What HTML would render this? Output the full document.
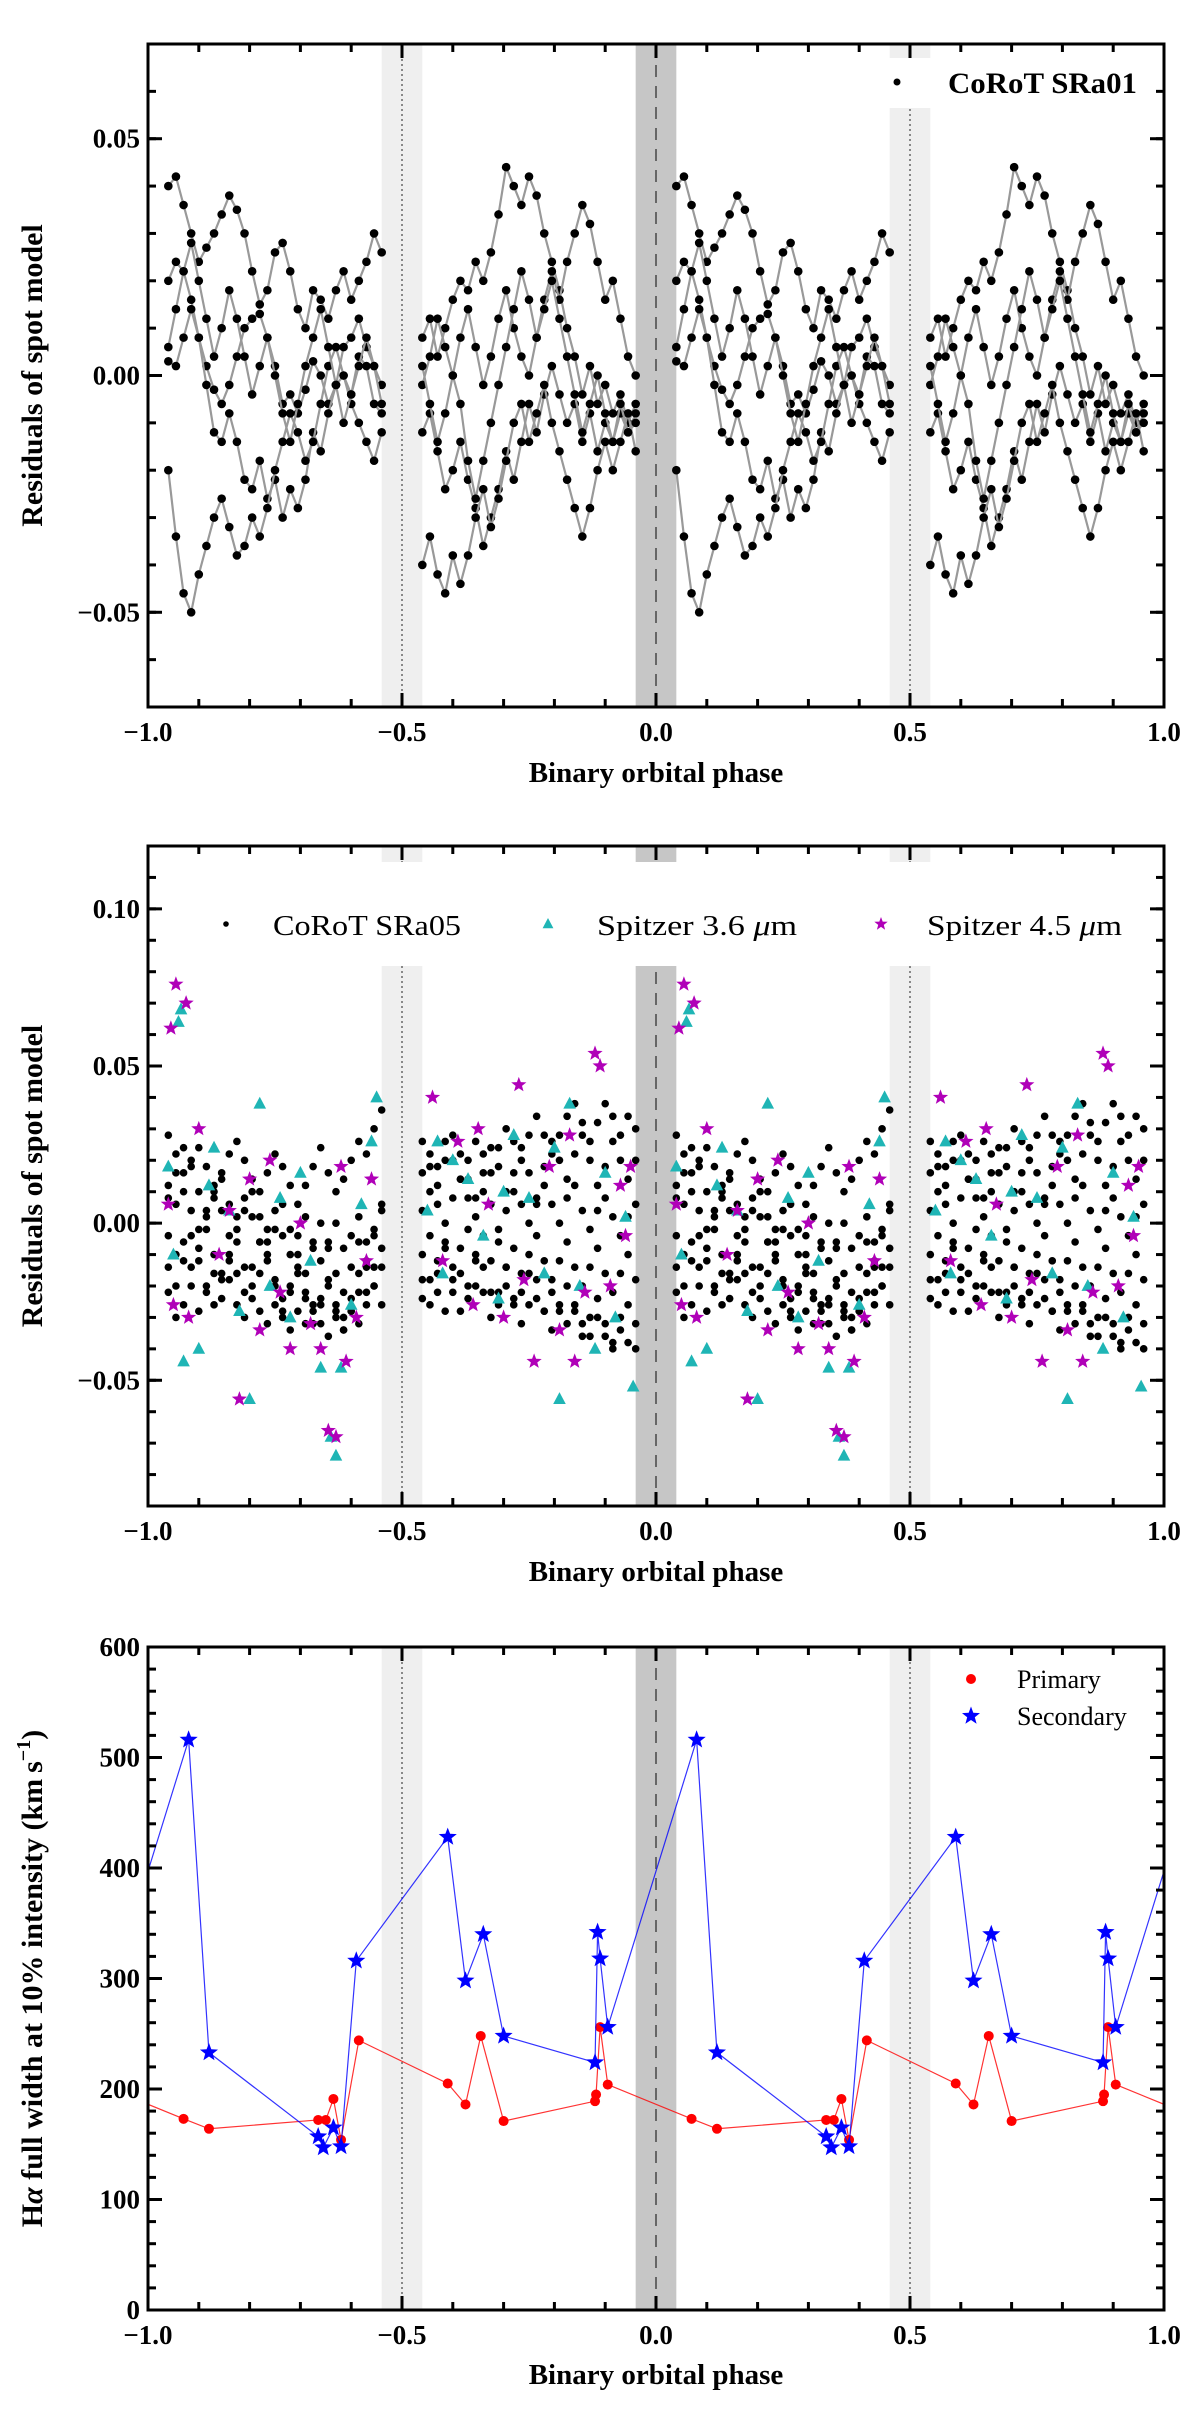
<!DOCTYPE html>
<html><head><meta charset="utf-8">
<style>
html,body{margin:0;padding:0;background:#fff;}
svg{display:block;font-family:"Liberation Serif",serif;}
</style></head>
<body>
<svg id="fig" width="1200" height="2410" viewBox="0 0 1200 2410" xmlns="http://www.w3.org/2000/svg"></svg>
<script>
// ---------- Panel 1 data (CoRoT SRa01), residual units of 0.01, phases in [-1,0) ----------
const p1SegStart = [-0.96, -0.46];
const p1SegEnd = [-0.54, -0.04];
const p1TraceA_L = [4.0,4.2,3.6,3.0,2.4,2.7,3.0,3.4,3.8,3.5,3.0,2.2,1.5,1.8,2.6,2.8,2.2,1.4,1.0,1.8,1.6,1.2,1.8,2.2,1.6,2.0,2.4,3.0,2.6];
const p1TraceB_L = [2.0,2.4,2.2,1.6,0.8,0.2,-0.3,-0.6,-0.2,0.4,1.0,1.2,1.3,0.8,0.2,-0.6,-0.4,-0.8,-0.3,0.3,0.0,-0.6,-0.2,0.6,0.8,1.2,0.6,0.2,-0.2];
const p1TraceC_L = [0.3,0.2,0.8,1.4,0.8,-0.2,-1.2,-1.4,-0.8,-1.4,-2.2,-2.4,-1.8,-2.6,-2.2,-3.0,-2.4,-2.8,-2.2,-1.2,-1.6,-0.8,-0.2,0.0,-0.6,-1.0,-1.4,-1.8,-1.2];
const p1TraceD_L = [-2.0,-3.4,-4.6,-5.0,-4.2,-3.6,-3.0,-2.6,-3.2,-3.8,-3.6,-3.0,-3.4,-2.8,-2.0,-1.4,-0.8,-1.2,-1.8,-1.4,-0.6,0.2,0.6,0.0,-0.4,0.4,0.2,-0.6,-0.8];
const p1TraceE_L = [0.6,1.4,2.2,2.8,2.0,1.2,0.4,1.0,1.8,1.2,0.4,-0.4,0.2,0.8,0.0,-0.8,-1.4,-0.6,0.2,0.8,1.4,0.6,-0.2,-1.0,-0.4,0.2,0.8,0.2,-0.6];
const p1TraceA_R = [0.8,1.2,0.4,1.0,1.6,2.0,1.8,2.4,2.0,2.6,3.4,4.4,4.0,3.6,4.2,3.8,3.0,2.4,1.8,1.0,0.4,-0.4,0.2,-0.6,-0.2,-0.8,-0.4,-1.0,-0.6];
const p1TraceB_R = [-0.2,0.4,1.2,0.6,0.0,0.8,1.4,0.6,-0.2,0.4,1.2,1.8,1.0,0.4,0.0,0.8,1.6,2.2,1.6,2.4,3.0,3.6,3.2,2.4,1.6,2.0,1.2,0.4,0.0];
const p1TraceC_R = [-1.2,-0.8,-1.6,-2.4,-2.0,-1.4,-2.2,-2.8,-3.6,-3.0,-2.4,-1.6,-2.2,-1.4,-0.6,-1.2,-0.4,0.2,-0.4,-1.0,-0.6,-1.4,-0.8,-1.6,-1.0,-1.4,-0.8,-1.2,-0.8];
const p1TraceD_R = [-4.0,-3.4,-4.2,-4.6,-3.8,-4.4,-3.8,-3.0,-2.4,-3.2,-2.6,-1.8,-1.0,-0.6,-1.4,-0.8,-0.2,-1.0,-1.6,-2.2,-2.8,-3.4,-2.8,-2.0,-1.4,-2.0,-1.4,-0.8,-1.6];
const p1TraceE_R = [0.2,-0.6,-1.4,-0.8,0.0,-0.6,-1.8,-2.6,-1.8,-1.0,-0.2,0.6,1.4,2.2,1.6,0.8,1.4,2.0,1.2,0.4,-0.4,-1.2,-0.6,0.0,-0.8,-1.4,-0.6,-1.2,-1.0];

// ---------- Panel 2 data (CoRoT SRa05 + Spitzer), units of 0.01 ----------
const p2K1_L = [2.8,2.2,1.6,2.0,2.4,1.8,1.2,1.6,2.2,2.6,2.0,1.4,1.0,1.6,2.2,1.8,1.2,0.6,1.2,1.8,2.4,1.6,1.0,1.4,2.0,2.6,2.2,3.0,3.6];
const p2K2_L = [1.2,0.6,1.0,0.4,-0.2,0.4,1.0,0.4,-0.4,0.2,0.8,0.2,-0.6,-0.2,0.4,-0.4,-1.0,-0.4,0.2,-0.6,-1.2,-0.6,0.0,-0.8,-0.4,0.2,-0.6,-0.2,0.4];
const p2K3_L = [-0.4,-1.0,-0.6,-1.4,-0.8,-0.2,-1.0,-1.6,-1.2,-0.6,-1.4,-2.0,-1.6,-1.0,-1.8,-2.4,-2.0,-1.4,-2.2,-2.8,-2.4,-1.8,-2.6,-3.0,-2.4,-1.6,-2.2,-1.4,-0.8];
const p2K4_L = [-2.2,-3.0,-2.6,-2.0,-2.8,-2.2,-1.6,-2.4,-1.8,-2.6,-3.0,-2.4,-2.8,-3.2,-2.6,-3.0,-3.4,-2.8,-3.2,-2.6,-3.2,-3.6,-3.0,-3.4,-2.8,-3.2,-2.6,-2.0,-1.4];
const p2K5_L = [0.8,1.6,2.4,1.8,1.0,0.2,0.8,1.4,0.6,-0.2,0.4,1.0,0.2,-0.6,-0.2,0.6,-0.2,-1.0,-1.6,-0.8,0.0,-0.8,-1.6,-2.2,-1.4,-0.6,-1.2,-0.4,0.6];
const p2K6_L = [-1.4,-2.0,-1.2,-0.4,-1.2,-2.0,-2.6,-1.8,-1.0,-1.6,-2.2,-1.4,-0.6,-1.2,-2.0,-2.8,-2.2,-1.6,-2.4,-3.2,-2.6,-2.0,-2.8,-3.4,-2.8,-2.2,-1.4,-2.0,-2.6];
const p2K1_R = [1.6,2.2,1.8,2.6,2.0,1.4,2.0,2.6,2.2,1.6,2.4,3.0,2.6,2.0,2.8,3.4,2.8,2.2,2.8,3.4,3.8,3.2,2.6,3.2,3.8,3.4,2.8,3.4,3.0];
const p2K2_R = [0.4,1.0,0.6,0.0,0.8,1.4,0.8,0.2,1.0,0.6,-0.2,0.4,1.0,0.6,0.0,0.6,1.2,0.6,0.0,0.8,1.2,0.4,-0.2,0.4,0.8,0.2,-0.4,0.2,0.6];
const p2K3_R = [-1.0,-0.4,-1.2,-0.6,-1.4,-0.8,-0.2,-1.0,-0.4,-1.2,-0.6,-1.4,-0.8,-1.6,-1.0,-0.4,-1.2,-1.8,-1.2,-0.6,-1.4,-2.0,-1.4,-0.8,-1.6,-2.2,-1.6,-1.0,-1.8];
const p2K4_R = [-2.4,-1.8,-2.2,-2.8,-2.2,-1.6,-2.4,-2.0,-1.4,-2.2,-2.6,-2.0,-2.6,-2.2,-1.6,-2.4,-2.8,-2.2,-2.8,-3.2,-2.6,-3.2,-3.6,-3.0,-3.6,-4.0,-3.4,-3.8,-4.0];
const p2K5_R = [2.6,1.8,1.2,2.0,2.8,2.2,1.4,0.8,1.6,2.4,1.8,1.0,1.6,2.4,1.6,0.8,1.8,2.6,2.0,1.4,2.2,2.8,2.0,1.2,1.8,2.6,2.0,1.4,2.0];
const p2K6_R = [-1.8,-2.6,-1.6,-0.8,-1.8,-2.8,-2.0,-1.2,-2.2,-3.0,-2.2,-1.4,-2.4,-3.2,-2.6,-1.8,-2.8,-3.4,-2.6,-2.0,-2.8,-3.6,-3.0,-2.4,-3.2,-3.8,-3.0,-2.6,-3.2];
const triPhase = [-0.94,-0.935,-0.96,-0.95,-0.93,-0.9,-0.87,-0.84,-0.80,-0.78,-0.76,-0.72,-0.70,-0.68,-0.66,-0.64,-0.63,-0.62,-0.60,-0.58,-0.56,-0.55,-0.45,-0.42,-0.40,-0.37,-0.34,-0.31,-0.28,-0.25,-0.22,-0.19,-0.17,-0.15,-0.12,-0.10,-0.08,-0.06,-0.045,-0.20,-0.30,-0.43,-0.88,-0.82,-0.74];
const triVal = [6.4,6.8,1.8,-1.0,-4.4,-4.0,2.4,0.4,-5.6,3.8,-2.0,-3.0,1.6,-1.2,-4.6,-6.8,-7.4,-4.6,-2.6,0.6,2.6,4.0,0.4,-1.6,2.0,1.4,-0.4,-2.4,2.8,0.8,-1.6,-5.6,3.8,-2.0,-4.0,1.6,-3.0,0.2,-5.2,2.4,1.0,2.6,1.2,-2.8,0.8];
const starPhase = [-0.945,-0.955,-0.925,-0.96,-0.95,-0.90,-0.92,-0.86,-0.82,-0.80,-0.78,-0.74,-0.72,-0.68,-0.66,-0.645,-0.63,-0.61,-0.59,-0.57,-0.56,-0.44,-0.42,-0.39,-0.36,-0.33,-0.30,-0.27,-0.24,-0.21,-0.19,-0.17,-0.14,-0.12,-0.11,-0.09,-0.07,-0.06,-0.84,-0.76,-0.70,-0.62,-0.35,-0.26,-0.16,-0.05];
const starVal = [7.6,6.2,7.0,0.6,-2.6,3.0,-3.0,-1.0,-5.6,1.4,-3.4,-2.2,-4.0,-3.2,-4.0,-6.6,-6.8,-4.4,-3.0,-1.2,1.4,4.0,-1.2,2.6,-2.6,0.6,-3.0,4.4,-4.4,1.8,-3.4,2.8,-2.2,5.4,5.0,-2.0,1.2,-0.4,0.4,2.0,0.0,1.8,3.0,-1.8,-4.4,1.8];

// ---------- Panel 3 data (H-alpha FW10%), phases in [0,1) ----------
const secPhase = [0.08,0.12,0.335,0.345,0.365,0.38,0.41,0.59,0.625,0.66,0.70,0.88,0.885,0.89,0.905];
const secVal = [516,233,157,147,165,148,316,428,298,340,248,224,342,318,256];
const priPhase = [0.07,0.12,0.335,0.35,0.365,0.38,0.415,0.59,0.625,0.655,0.70,0.88,0.882,0.89,0.905];
const priVal = [173,164,172,172,191,154,244,205,186,248,171,189,195,256,204];

const xTickLabels = ["\u22121.0","\u22120.5","0.0","0.5","1.0"];
const xTickVals = [-1,-0.5,0,0.5,1];
const p1YTicks = [-0.05,0,0.05];
const p1YLabels = ["\u22120.05","0.00","0.05"];
const p2YTicks = [-0.05,0,0.05,0.10];
const p2YLabels = ["\u22120.05","0.00","0.05","0.10"];
const p3YTicks = [0,100,200,300,400,500,600];
const p3YLabels = ["0","100","200","300","400","500","600"];

const NS = "http://www.w3.org/2000/svg";
const svg = document.getElementById('fig');
function el(tag, attrs, parent){ const e=document.createElementNS(NS,tag); for(const k in attrs) e.setAttribute(k,attrs[k]); (parent||svg).appendChild(e); return e; }

const X0=148, X1=1164;
const xs = v => X0 + (v+1)/2*(X1-X0);

function makePanel(id, top, bot, ymin, ymax){
  const g = el('g',{});
  
  
  const ys = v => bot - (v-ymin)/(ymax-ymin)*(bot-top);
  const clipId='clip-'+id;
  const cp = el('clipPath',{id:clipId},g); el('rect',{x:X0,y:top,width:X1-X0,height:bot-top},cp);
  const plot = el('g',{'clip-path':'url(#'+clipId+')'},g);
  return {g,ys,plot,top,bot};
}

function bands(P, legendBox){
  [[-0.54,-0.46],[0.46,0.54]].forEach(b=>{
    const r = el('rect',{x:xs(b[0]),y:P.top,width:xs(b[1])-xs(b[0]),height:P.bot-P.top,fill:'#efefef'},P.plot);
    
    
  });
  const d = el('rect',{x:xs(-0.04),y:P.top,width:xs(0.04)-xs(-0.04),height:P.bot-P.top,fill:'#c6c6c6'},P.plot);
  
  
  [-0.5,0.5].forEach(v=>{ const l=el('line',{x1:xs(v),x2:xs(v),y1:P.top,y2:P.bot,stroke:'#666','stroke-width':1.5,'stroke-dasharray':'2,3'},P.plot);
    
     });
  const z=el('line',{x1:xs(0),x2:xs(0),y1:P.top,y2:P.bot,stroke:'#666','stroke-width':2,'stroke-dasharray':'12,9'},P.plot);
  
  
  if(legendBox){ el('rect',{x:legendBox[0],y:legendBox[1],width:legendBox[2],height:legendBox[3],fill:'#fff'},P.plot); }
}

function axes(P, yTicks, yLabels, yMinorStep, ymin, ymax, xlabelY, ylabel){
  const g=P.g;
  for(let i=0;i<=20;i++){
    const v=-1+i*0.1;
    const major = i%5===0;
    const L = major?14:8; const x=xs(v);
    el('line',{x1:x,x2:x,y1:P.bot,y2:P.bot-L,stroke:'#000','stroke-width':3},g);
    el('line',{x1:x,x2:x,y1:P.top,y2:P.top+L,stroke:'#000','stroke-width':3},g);
  }
  const nMin = Math.round((ymax-ymin)/yMinorStep);
  for(let i=0;i<=nMin;i++){
    const v = ymin + i*yMinorStep; const y=P.ys(v);
    el('line',{x1:X0,x2:X0+8,y1:y,y2:y,stroke:'#000','stroke-width':3},g);
    el('line',{x1:X1,x2:X1-8,y1:y,y2:y,stroke:'#000','stroke-width':3},g);
  }
  yTicks.forEach((v,i)=>{ const y=P.ys(v);
    el('line',{x1:X0,x2:X0+14,y1:y,y2:y,stroke:'#000','stroke-width':3},g);
    el('line',{x1:X1,x2:X1-14,y1:y,y2:y,stroke:'#000','stroke-width':3},g);
    const t=el('text',{x:X0-8,y:y+9,'text-anchor':'end','font-size':27,'font-weight':'bold'},g);
    t.textContent=yLabels[i];
    
    
  });
  xTickVals.forEach((v,i)=>{
    const t=el('text',{x:xs(v),y:P.bot+34,'text-anchor':'middle','font-size':27,'font-weight':'bold'},g);
    t.textContent=xTickLabels[i];
    
    
  });
  const r=el('rect',{x:X0,y:P.top,width:X1-X0,height:P.bot-P.top,fill:'none',stroke:'#000','stroke-width':3},g);
  
  
  const xl=el('text',{x:(X0+X1)/2,y:xlabelY,'text-anchor':'middle','font-size':29,'font-weight':'bold'},g);
  xl.textContent='Binary orbital phase';
  
  
  const cy=(P.top+P.bot)/2;
  const yl=el('text',{x:0,y:0,'text-anchor':'middle','font-size':30,'font-weight':'bold',transform:`translate(42,${cy}) rotate(-90)`},g);
  yl.innerHTML=ylabel;
  
  
}

function starPath(cx,cy,R){
  let d=''; const r=R*0.42;
  for(let i=0;i<10;i++){ const a=-Math.PI/2+i*Math.PI/5; const rr=i%2?r:R;
    d+=(i?'L':'M')+(cx+rr*Math.cos(a)).toFixed(1)+','+(cy+rr*Math.sin(a)).toFixed(1); }
  return d+'Z';
}
function triPath(cx,cy,s){ return `M${cx},${cy-s}L${cx+s*0.9},${cy+s*0.7}L${cx-s*0.9},${cy+s*0.7}Z`; }

// ===================== Panel 1 =====================
const P1 = makePanel('panel-corot-sra01', 44, 707, -0.07, 0.07);
bands(P1, [880,58,280,50]);
const p1Traces = [[p1TraceA_L,p1TraceA_R],[p1TraceB_L,p1TraceB_R],[p1TraceC_L,p1TraceC_R],[p1TraceD_L,p1TraceD_R],[p1TraceE_L,p1TraceE_R]];
[0,1].forEach(shift=>{
  p1Traces.forEach(tr=>{
    [0,1].forEach(s=>{
      const vals=tr[s]; const n=vals.length;
      const pts=vals.map((v,i)=>[xs(p1SegStart[s]+(p1SegEnd[s]-p1SegStart[s])*i/(n-1)+shift), P1.ys(v/100)]);
      const pl=el('polyline',{points:pts.map(p=>p.join(',')).join(' '),fill:'none',stroke:'#999','stroke-width':2.2},P1.plot);
      
      
      pts.forEach(p=>{ const c=el('circle',{cx:p[0],cy:p[1],r:4.3,fill:'#000'},P1.plot);
        
         });
    });
  });
});
axes(P1, p1YTicks, p1YLabels, 0.01, -0.07, 0.07, 782, 'Residuals of spot model');
{ const lg=el('g',{},P1.g);
  
  
  el('circle',{cx:897,cy:82,r:3.5,fill:'#000'},lg);
  const t=el('text',{x:948,y:93,'font-size':30,'font-weight':'bold',textLength:189,lengthAdjust:'spacingAndGlyphs'},lg); t.textContent='CoRoT SRa01';
  
   }

// ===================== Panel 2 =====================
const P2 = makePanel('panel-corot-sra05-spitzer', 846, 1506, -0.09, 0.12);
bands(P2, [200,862,960,104]);
const p2Traces=[[p2K1_L,p2K1_R],[p2K2_L,p2K2_R],[p2K3_L,p2K3_R],[p2K4_L,p2K4_R],[p2K5_L,p2K5_R],[p2K6_L,p2K6_R]];
[0,1].forEach(shift=>{
  p2Traces.forEach(tr=>{ [0,1].forEach(s=>{
    const vals=tr[s]; const n=vals.length;
    vals.forEach((v,i)=>{ const ph=p1SegStart[s]+(p1SegEnd[s]-p1SegStart[s])*i/(n-1)+shift;
      const c=el('circle',{cx:xs(ph),cy:P2.ys(v/100),r:3.8,fill:'#000'},P2.plot);
      
       });
  }); });
  triPhase.forEach((ph,i)=>{ const p=el('path',{d:triPath(xs(ph+shift),P2.ys(triVal[i]/100),7),fill:'#1fb5b5'},P2.plot);
    
     });
  starPhase.forEach((ph,i)=>{ const p=el('path',{d:starPath(xs(ph+shift),P2.ys(starVal[i]/100),8),fill:'#b000b8'},P2.plot);
    
     });
});
axes(P2, p2YTicks, p2YLabels, 0.01, -0.09, 0.12, 1581, 'Residuals of spot model');
{ const lg=el('g',{},P2.g);
  
  
  el('circle',{cx:226,cy:924,r:2.8,fill:'#000'},lg);
  let t=el('text',{x:273,y:935,'font-size':29,textLength:188,lengthAdjust:'spacingAndGlyphs'},lg); t.textContent='CoRoT SRa05';
  
  
  el('path',{d:triPath(548,924,6),fill:'#1fb5b5'},lg);
  t=el('text',{x:597,y:935,'font-size':29,textLength:200,lengthAdjust:'spacingAndGlyphs'},lg); t.innerHTML='Spitzer 3.6 <tspan font-style="italic">\u03bc</tspan>m';
  
  
  el('path',{d:starPath(881,924,7),fill:'#b000b8'},lg);
  t=el('text',{x:927,y:935,'font-size':29,textLength:195,lengthAdjust:'spacingAndGlyphs'},lg); t.innerHTML='Spitzer 4.5 <tspan font-style="italic">\u03bc</tspan>m';
  
   }

// ===================== Panel 3 =====================
const P3 = makePanel('panel-halpha-width', 1647, 2310, 0, 600);
bands(P3, null);
function series(ph, vals, color, kind, name){
  const pts=[];
  [-2,-1,0,1].forEach(k=>ph.forEach((p,i)=>pts.push([p+k, vals[i]])));
  const line=el('polyline',{points:pts.map(p=>xs(p[0])+','+P3.ys(p[1])).join(' '),fill:'none',stroke:color,'stroke-width':1.2,opacity:0.8},P3.plot);
  
  
  pts.forEach(p=>{ if(p[0]<-1.02||p[0]>1.02) return;
    let m;
    if(kind==='o') m=el('circle',{cx:xs(p[0]),cy:P3.ys(p[1]),r:5,fill:color},P3.plot);
    else m=el('path',{d:starPath(xs(p[0]),P3.ys(p[1]),9.5),fill:color},P3.plot);
    
     });
}
series(priPhase, priVal, '#ff0000', 'o', 'primary');
series(secPhase, secVal, '#0000ff', 's', 'secondary');
axes(P3, p3YTicks, p3YLabels, 20, 0, 600, 2384, 'H<tspan font-style="italic">\u03b1</tspan> full width at 10% intensity (km\u2009s<tspan dy="-12" font-size="20">\u22121</tspan><tspan dy="12">)</tspan>');
{ const lg=el('g',{},P3.g);
  
  
  el('circle',{cx:971,cy:1679,r:5,fill:'#ff0000'},lg);
  let t=el('text',{x:1017,y:1688,'font-size':26},lg); t.textContent='Primary';
  
  
  el('path',{d:starPath(971,1716,9.5),fill:'#0000ff'},lg);
  t=el('text',{x:1017,y:1725,'font-size':26},lg); t.textContent='Secondary';
  
   }
</script>
</body></html>
